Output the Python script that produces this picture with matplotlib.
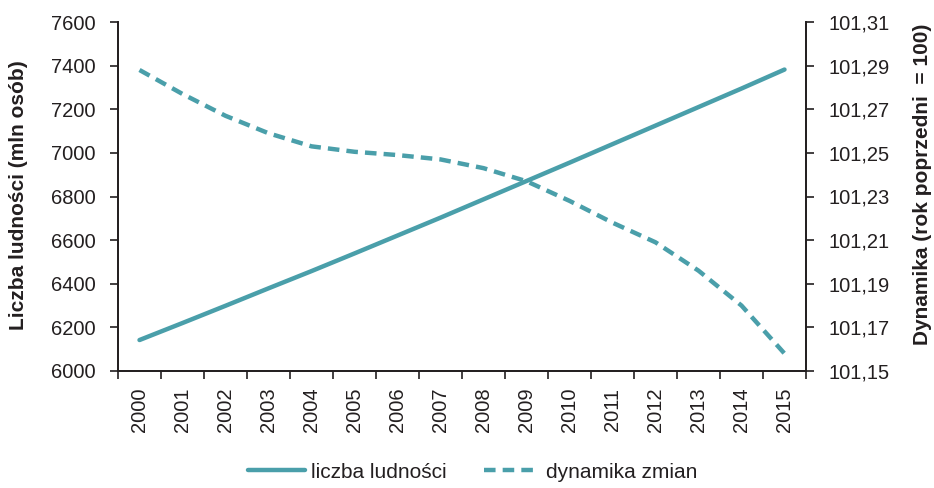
import matplotlib
matplotlib.use("Agg")
import matplotlib.pyplot as plt
from matplotlib.ticker import FixedLocator
import numpy as np

years = [str(y) for y in range(2000, 2016)]
population = [6142, 6220, 6299, 6379, 6458, 6539, 6621, 6703, 6787, 6871,
              6955, 7040, 7125, 7210, 7295, 7382]
dynamics = [101.288, 101.277, 101.267, 101.259, 101.253, 101.2505, 101.249,
            101.247, 101.243, 101.237, 101.228, 101.218, 101.209, 101.196,
            101.180, 101.158]
left_ticks = [6000, 6200, 6400, 6600, 6800, 7000, 7200, 7400, 7600]
right_ticks = [101.15, 101.17, 101.19, 101.21, 101.23, 101.25, 101.27, 101.29, 101.31]

plt.rcParams['font.family'] = ['Liberation Sans', 'DejaVu Sans']
teal = '#4a9faa'
txt = '#231f20'

fig = plt.figure(figsize=(9.34, 4.88), dpi=100)
ax = fig.add_axes([118/934, 1-371/488, (806-118)/934, (371-22)/488])
ax2 = ax.twinx()

x = np.arange(len(years))
l1, = ax.plot(x, population, color=teal, lw=3.2, solid_capstyle='round',
              label='liczba ludności', zorder=3)
l2, = ax2.plot(x, dynamics, color=teal, lw=3.2, dashes=(2.6, 1.6),
               label='dynamika zmian')

ax.set_xlim(-0.5, len(years) - 0.5)
ax.set_ylim(left_ticks[0], left_ticks[-1])
ax2.set_ylim(right_ticks[0], right_ticks[-1])

ax.xaxis.set_major_locator(FixedLocator(x))
ax.set_xticklabels(years, rotation=90, fontsize=14.5, color=txt)
ax.xaxis.set_minor_locator(FixedLocator(np.arange(-0.5, len(years), 1.0)))
ax.tick_params(axis='x', which='major', length=0, pad=12)
ax.tick_params(axis='x', which='minor', length=6, width=1.2, color=txt, direction='out')

ax.set_yticks(left_ticks)
ax.set_yticklabels([str(v) for v in left_ticks], fontsize=14.5, color=txt)
ax.tick_params(axis='y', length=6, width=1.2, color=txt, direction='out', pad=10)

ax2.set_yticks(right_ticks)
ax2.set_yticklabels([f"{v:.2f}".replace('.', ',') for v in right_ticks], fontsize=14.5, color=txt)
ax2.tick_params(axis='y', length=6, width=1.2, color=txt, direction='out', pad=10)

for a in (ax, ax2):
    a.spines['top'].set_visible(False)
    for s in ('left', 'right', 'bottom'):
        a.spines[s].set_linewidth(1.3)
        a.spines[s].set_color(txt)

fig.text(19/934, 1-195/488, 'Liczba ludności (mln osób)', rotation=90, ha='center', va='center',
         fontsize=15, fontweight='bold', color=txt)
fig.text(922/934, 1-184/488, 'Dynamika (rok poprzedni  = 100)', rotation=90, ha='center', va='center',
         fontsize=15, fontweight='bold', color=txt)

fig.legend(handles=[l1, l2], loc='center', bbox_to_anchor=(473/934, 1-472/488), ncol=2,
           frameon=False, fontsize=15, handlelength=2.7, columnspacing=1.8,
           handletextpad=0.3, labelcolor=txt)

fig.savefig('out.png', dpi=100)
